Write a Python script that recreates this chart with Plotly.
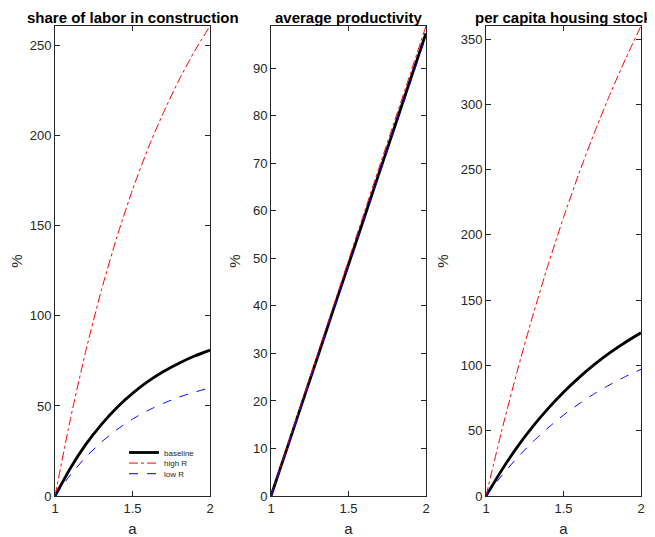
import plotly.graph_objects as go

a_vals = [1.0, 1.1, 1.2, 1.3, 1.4, 1.5, 1.6, 1.7, 1.8, 1.9, 2.0]

# share of labor in construction (%)
labor_baseline = [0, 15.6, 28.8, 39.8, 49.2, 57.0, 63.6, 69.1, 73.7, 77.7, 81.0]
labor_highR = [0, 43.0, 81.0, 114.5, 144.0, 170.0, 193.0, 213.0, 231.0, 247.0, 261.0]
labor_lowR = [0, 11.8, 21.7, 30.0, 36.9, 42.7, 47.5, 51.5, 54.9, 57.7, 60.0]

# average productivity (%)
prod_baseline = [0, 9.7, 19.5, 29.2, 39.0, 48.7, 58.4, 68.2, 77.9, 87.7, 97.4]
prod_highR = [0, 10.0, 19.9, 29.8, 39.7, 49.6, 59.5, 69.4, 79.2, 89.0, 98.9]
prod_lowR = [0, 9.6, 19.3, 29.0, 38.7, 48.4, 58.1, 67.8, 77.5, 87.1, 96.8]

# per capita housing stock (%)
house_baseline = [0, 19.6, 37.2, 52.9, 66.9, 79.5, 90.7, 100.8, 109.8, 117.8, 125.0]
house_highR = [0, 49.3, 95.0, 137.4, 176.8, 213.3, 247.2, 278.5, 307.7, 334.7, 360.0]
house_lowR = [0, 15.4, 29.1, 41.3, 52.2, 62.0, 70.6, 78.4, 85.3, 91.5, 97.0]

titles = ["share of labor in construction", "average productivity", "per capita housing stock"]
series_names = ["baseline", "high R", "low R"]
x_ticks = [1, 1.5, 2]
y_ticks = [
    [0, 50, 100, 150, 200, 250],
    [0, 10, 20, 30, 40, 50, 60, 70, 80, 90],
    [0, 50, 100, 150, 200, 250, 300, 350],
]
panels = [
    (labor_baseline, labor_highR, labor_lowR),
    (prod_baseline, prod_highR, prod_lowR),
    (house_baseline, house_highR, house_lowR),
]

FONT = "Liberation Sans, Arial, Helvetica, sans-serif"
AX = "#262626"

OFF = 8  # page body margin
W, H = 655 - OFF, 537 - OFF
ml, mt = 55 - OFF, 26 - OFF
mr = W - (641 - OFF)
mb = H - (496 - OFF)
pw = W - ml - mr
ph = H - mt - mb
def px_x(v):
    return (v - OFF - ml) / pw
def px_y(v):
    return (H - mb - (v - OFF)) / ph

domains = [
    (0.0, px_x(210)),
    (px_x(271), px_x(426)),
    (px_x(486), 1.0),
]

styles = [
    dict(color="black", width=2.8, dash="solid"),
    dict(color="#ff0000", width=1, dash="dashdot"),
    dict(color="#0000ff", width=1, dash="dash"),
]
legend_ids = ["legend", "legend2", "legend3"]

fig = go.Figure()
for i, data in enumerate(panels):
    xa = "x" if i == 0 else f"x{i+1}"
    ya = "y" if i == 0 else f"y{i+1}"
    for j, vals in enumerate(data):
        fig.add_trace(go.Scatter(
            x=a_vals, y=vals, mode="lines", name=series_names[j],
            line=dict(shape="spline", smoothing=0.6, **styles[j]),
            xaxis=xa, yaxis=ya, showlegend=(i == 0), legend=legend_ids[j],
        ))

layout = dict(
    width=W, height=H,
    margin=dict(l=ml, r=mr, t=mt, b=mb, autoexpand=False),
    paper_bgcolor="white", plot_bgcolor="white",
    font=dict(family=FONT, size=13, color=AX),
    annotations=[],
)
legend_tops = [438, 448.6, 459.2]
for k, lid in enumerate(legend_ids):
    layout[lid] = dict(
        x=px_x(124), y=px_y(legend_tops[k]),
        xanchor="left", yanchor="top",
        font=dict(size=8, color="#262626"),
        bgcolor="rgba(255,255,255,0)",
        itemwidth=30,
    )
ymax = [max(labor_highR), max(prod_highR), max(house_highR)]
for i in range(3):
    sfx = "" if i == 0 else str(i + 1)
    layout[f"xaxis{sfx}"] = dict(
        domain=domains[i], range=[1, 2], anchor=f"y{sfx}",
        tickvals=x_ticks, ticktext=["1", "1.5", "2"],
        ticks="inside", ticklen=5, tickcolor=AX, tickwidth=1,
        showline=True, linecolor=AX, linewidth=1, mirror="ticks",
        showgrid=False, zeroline=False, automargin=False,
        title=dict(text="a", font=dict(size=15, color=AX), standoff=8),
        tickfont=dict(size=13, color=AX),
    )
    layout[f"yaxis{sfx}"] = dict(
        domain=[0, 1], range=[0, ymax[i]], anchor=f"x{sfx}",
        tickvals=y_ticks[i],
        ticks="inside", ticklen=5, tickcolor=AX, tickwidth=1,
        showline=True, linecolor=AX, linewidth=1, mirror="ticks",
        showgrid=False, zeroline=False, automargin=False,
        title=dict(text="%", font=dict(size=15, color=AX), standoff=8),
        tickfont=dict(size=13, color=AX),
    )
    c = (domains[i][0] + domains[i][1]) / 2
    layout["annotations"].append(dict(
        text=f"<b>{titles[i]}</b>", x=c, y=1, xref="paper", yref="paper",
        xanchor="center", yanchor="bottom", yshift=-1, borderpad=0,
        showarrow=False,
        font=dict(size=15, color="black", family=FONT),
    ))

fig.update_layout(**layout)
fig.write_html("out.html")
